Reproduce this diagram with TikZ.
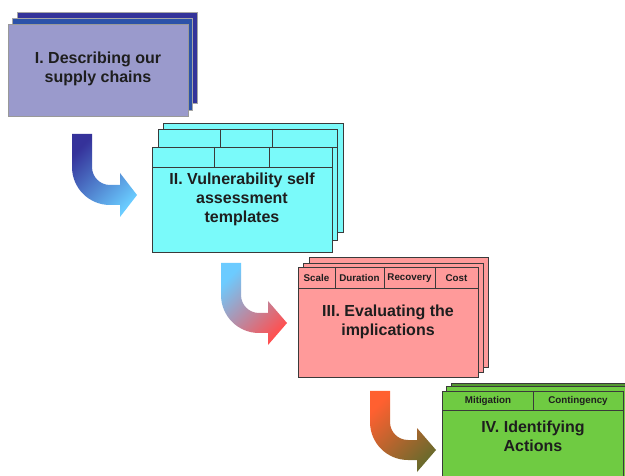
\documentclass[tikz,border=0pt]{standalone}
\usepackage{fontspec}
\setmainfont{Liberation Sans}
\definecolor{lavfront}{HTML}{9A9ACC}
\definecolor{navyback}{HTML}{33339A}
\definecolor{cyanbox}{HTML}{7AFAFA}
\definecolor{salmonbox}{HTML}{FF9A9A}
\definecolor{greenbox}{HTML}{6FCB42}
\definecolor{edgegray}{HTML}{3A3A3A}
\definecolor{txt}{HTML}{1E1E1E}
\definecolor{aonetop}{HTML}{35329A}
\definecolor{aonemid}{HTML}{4F86C0}
\definecolor{aonebot}{HTML}{6ACCFF}
\definecolor{atwotop}{HTML}{6CCBFF}
\definecolor{atwomid}{HTML}{C89AC8}
\definecolor{atwobot}{HTML}{FF5050}
\definecolor{athrtop}{HTML}{FF6030}
\definecolor{athrmid}{HTML}{B4643A}
\definecolor{athrbot}{HTML}{6A6A2C}
\newcommand{\bentarr}[5]{(#1,#2) -- ({#1+20},#2) -- ({#1+20},{#3-28}) .. controls ({#1+20},{#3-10-18*0.4477}) and ({#1+20+18*0.4477},{#3-10}) .. ({#1+38},{#3-10}) -- (#4,{#3-10}) -- (#4,{#3-22}) -- (#5,#3) -- (#4,{#3+22}) -- (#4,{#3+10}) -- ({#1+38},{#3+10}) .. controls ({#1+38-38*0.5523},{#3+10}) and (#1,{#3-28+38*0.5523}) .. (#1,{#3-28}) -- cycle}
\begin{document}
\begin{tikzpicture}[x=1pt,y=-1pt,
  layer/.style={draw=edgegray,line width=0.8pt},
  title/.style={font=\bfseries\fontsize{16}{19}\selectfont,text=txt,align=center},
  hdr/.style={font=\bfseries\fontsize{9.8}{11}\selectfont,text=txt}]
\useasboundingbox (0,0) rectangle (625,476);
\clip (0,0) rectangle (625,476);
\fill[white] (0,0) rectangle (625,476);

% ---- Box I
\fill[navyback,draw=gray!70,line width=0.6pt] (17,12) rectangle (197,103);
\fill[navyback!85!cyan,draw=gray!70,line width=0.6pt] (12,18) rectangle (192,110);
\node[draw=gray!80,line width=0.6pt,fill=lavfront,minimum width=180pt,minimum height=92pt,anchor=north west,inner sep=0pt] (b1) at (8,24) {};
\node[title] (t1) at (98,69) {I. Describing our\\supply chains};

% ---- Arrow 1
\shade[top color=aonetop,middle color=aonemid,bottom color=aonebot,shading angle=45] \bentarr{72}{134}{195}{120}{137};

% ---- Box II
\fill[layer,fill=cyanbox] (163,123) rectangle (343,232);
\fill[layer,fill=cyanbox] (158,129) rectangle (337,240);
\draw[layer] (158,147) -- (337,147) (220,129) -- (220,147) (272,129) -- (272,147);
\node[layer,fill=cyanbox,minimum width=180pt,minimum height=105pt,anchor=north west,inner sep=0pt] (b2) at (152,147) {};
\draw[layer] (152,167) -- (332,167) (214,147) -- (214,167) (269,147) -- (269,167);
\node[title] (t2) at (242,199) {II. Vulnerability self\\assessment\\templates};

% ---- Arrow 2
\shade[top color=atwotop,middle color=atwomid,bottom color=atwobot,shading angle=45] \bentarr{221}{263}{323}{268}{287};

% ---- Box III
\fill[layer,fill=salmonbox] (309,257) rectangle (488,367);
\fill[layer,fill=salmonbox] (303,263) rectangle (483,372);
\node[layer,fill=salmonbox,minimum width=180pt,minimum height=110pt,anchor=north west,inner sep=0pt] (b3) at (298,267) {};
\draw[layer] (298,288) -- (478,288) (335,267) -- (335,288) (384,267) -- (384,288) (435,267) -- (435,288);
\node[hdr] (h31) at (316.5,278) {Scale};
\node[hdr] (h32) at (359.5,278) {Duration};
\node[hdr] (h33) at (409.5,278) {Recovery};
\node[hdr] (h34) at (456.5,278) {Cost};
\node[title] (t3) at (388,322) {III. Evaluating the\\implications};

% ---- Arrow 3
\shade[top color=athrtop,middle color=athrmid,bottom color=athrbot,shading angle=45] \bentarr{370}{391}{450}{417}{436};

% ---- Box IV
\fill[layer,fill=greenbox!75!black] (451,383) rectangle (640,490);
\fill[layer,fill=greenbox] (446,386) rectangle (632,490);
\node[layer,fill=greenbox,minimum width=181pt,minimum height=100pt,anchor=north west,inner sep=0pt] (b4) at (442,391) {};
\draw[layer] (442,410) -- (623,410) (533,391) -- (533,410);
\node[hdr] (h41) at (488,401) {Mitigation};
\node[hdr] (h42) at (578,401) {Contingency};
\node[title] (t4) at (533,436) {IV. Identifying\\Actions};
\end{tikzpicture}
\end{document}
